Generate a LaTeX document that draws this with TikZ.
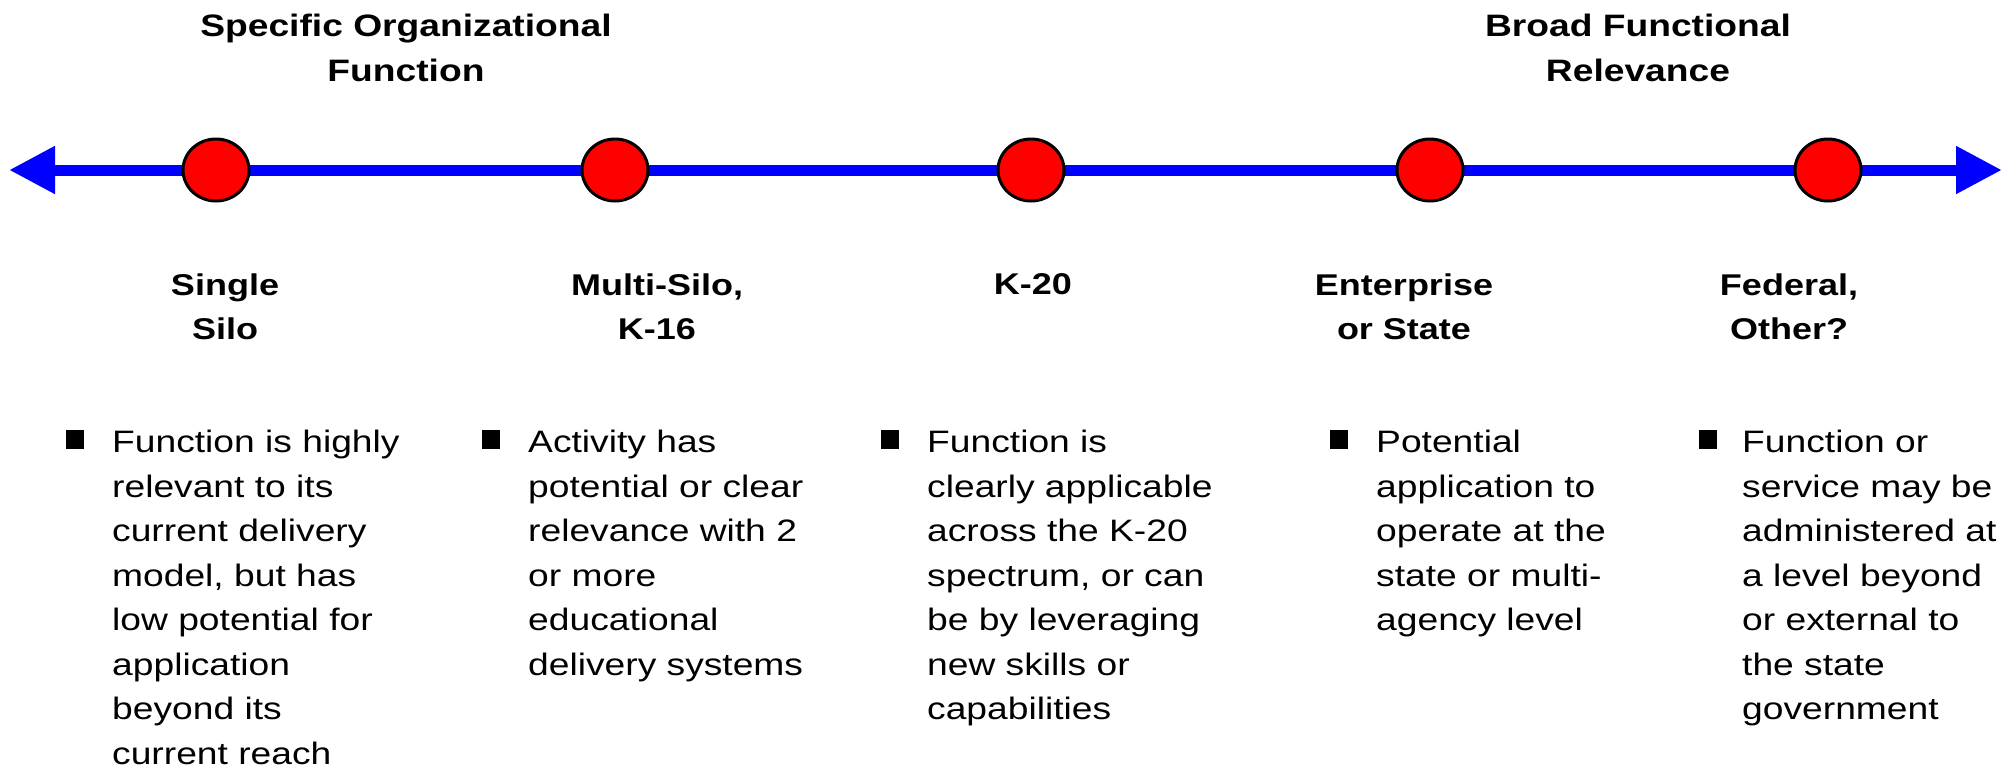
\documentclass[tikz,border=0pt]{standalone}
\usepackage{fontspec}
\setmainfont{Liberation Sans}[FakeStretch=1.2]
\usetikzlibrary{arrows.meta,shapes.geometric}
\definecolor{axisblue}{RGB}{0,0,255}
\definecolor{dotred}{RGB}{255,0,0}
\begin{document}
\begin{tikzpicture}[x=1pt,y=-1pt,
  axis/.style={line width=11pt, draw=axisblue, fill=axisblue,
    {Triangle[length=46pt,width=45pt]}-{Triangle[length=46pt,width=45pt]}},
  dot/.style={ellipse, draw=black, line width=3pt, fill=dotred,
    minimum width=66pt, minimum height=62pt, inner sep=0pt},
  head/.style={font=\bfseries\fontsize{30}{44.5}\selectfont, align=center,
    inner sep=0pt, anchor=north},
  title/.style={head, font=\bfseries\fontsize{31}{44.5}\selectfont},
  body/.style={font=\fontsize{31}{44.5}\selectfont, align=left,
    inner sep=0pt, anchor=north west},
  sq/.style={fill=black, minimum width=18pt, minimum height=19pt,
    inner sep=0pt, anchor=north west}]
\useasboundingbox (0,0) rectangle (2007,769);
% axis
\coordinate (L) at (9,170);
\coordinate (R) at (2002,170);
\draw[axis] (L) -- (R);
% dots
\node[dot] (c1) at (216,170) {};
\node[dot] (c2) at (615,170) {};
\node[dot] (c3) at (1031,170) {};
\node[dot] (c4) at (1430,170) {};
\node[dot] (c5) at (1828,170) {};
% top headings
\node[title] (hl) at (406,14) {Specific Organizational\\Function};
\node[title] (hr) at (1638,14) {Broad Functional\\Relevance};
% labels
\node[head] (l1) at (225,273.5) {Single\\Silo};
\node[head] (l2) at (657,273.5) {Multi-Silo,\\K-16};
\node[head] (l3) at (1033,273.5) {K-20};
\node[head] (l4) at (1404,273.5) {Enterprise\\or State};
\node[head] (l5) at (1789,273.5) {Federal,\\Other?};
% bullets
\node[sq] (s1) at (66,430) {};
\node[body] (t1) at (112,430.3) {Function is highly\\relevant to its\\current delivery\\model, but has\\low potential for\\application\\beyond its\\current reach};
\node[sq] (s2) at (482,430) {};
\node[body] (t2) at (528,430.3) {Activity has\\potential or clear\\relevance with 2\\or more\\educational\\delivery systems};
\node[sq] (s3) at (881,430) {};
\node[body] (t3) at (927,430.3) {Function is\\clearly applicable\\across the K-20\\spectrum, or can\\be by leveraging\\new skills or\\capabilities};
\node[sq] (s4) at (1330,430) {};
\node[body] (t4) at (1376,430.3) {Potential\\application to\\operate at the\\state or multi-\\agency level};
\node[sq] (s5) at (1699,430) {};
\node[body] (t5) at (1742,430.3) {Function or\\service may be\\administered at\\a level beyond\\or external to\\the state\\government};
\end{tikzpicture}
\end{document}
